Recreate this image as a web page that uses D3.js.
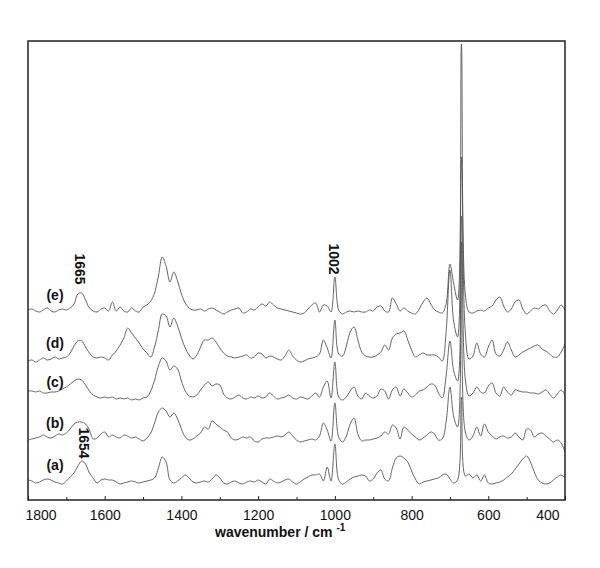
<!DOCTYPE html>
<html><head><meta charset="utf-8">
<script src="https://cdn.jsdelivr.net/npm/d3@7"></script>
<style>body{margin:0;background:#fff}svg{display:block}</style>
</head><body>
<svg id="chart" width="600" height="568"></svg>
<script>
// x grid (cm-1), 1800 -> 400 in steps of 10
const wavenumbers = d3.range(1800, 399, -10);

// Intensities (a.u.) above each trace's own baseline, one value per grid point
const seriesA = [
 4,3,1,2,4,5,4,2,1,0,
 3,7,11,18,23,20,11,6,1,4,
 5,4,4,2,0,1,2,3,2,1,
 2,3,4,6,16,27,22,4,1,3,
 6,9,6,2,1,2,3,2,5,9,
 6,1,0,2,3,1,0,2,3,2,
 4,2,0,5,3,1,2,4,5,2,
 0,2,5,7,9,9,10,3,17,3,
 40,4,0,2,5,7,8,9,8,3,
 5,11,14,5,3,16,26,28,26,22,
 13,5,0,2,3,4,5,6,9,10,
 5,1,4,87,8,10,6,9,3,9,
 1,0,1,2,4,7,10,15,20,25,
 28,22,12,4,1,0,1,4,7,9,
 6];
const seriesB = [
 2,3,4,5,7,5,4,6,8,7,
 9,13,18,20,20,18,12,3,4,8,
 10,5,7,5,4,7,6,4,5,3,
 1,4,9,19,30,34,31,25,29,23,
 13,5,2,3,6,9,15,13,21,18,
 15,12,10,4,2,3,5,4,5,1,
 0,3,4,4,5,6,5,7,10,6,
 2,0,1,2,3,2,6,19,12,1,
 39,5,0,6,18,24,8,1,2,2,
 3,4,6,10,8,17,14,3,15,12,
 8,5,2,4,7,10,8,2,3,20,
 55,25,15,200,10,2,6,15,6,18,
 10,6,3,5,6,4,5,9,5,2,
 13,12,5,8,9,6,3,0,2,-1,
 -10];
const seriesC = [
 10,10,9,10,8,8,9,9,10,12,
 14,17,20,22,21,16,10,6,4,3,
 4,3,4,2,3,2,3,1,2,1,
 3,4,10,21,35,43,40,31,35,32,
 20,10,5,4,6,11,16,19,15,17,
 16,7,3,2,4,6,3,2,4,3,
 5,3,4,8,5,2,3,4,6,3,
 2,4,3,2,5,8,4,14,20,3,
 39,4,1,4,10,14,5,2,8,5,
 3,5,12,10,2,11,14,5,12,8,
 4,6,10,11,14,17,16,8,3,25,
 60,30,20,185,22,5,8,14,9,8,
 15,18,8,5,14,9,6,11,10,9,
 9,8,8,7,9,11,7,3,7,11,
 6];
const seriesD = [
 1,2,0,2,4,2,3,5,3,4,
 5,9,16,21,21,15,9,5,4,5,
 4,2,7,11,17,24,34,29,24,19,
 13,9,5,15,32,48,46,35,44,36,
 24,14,7,3,7,15,22,22,24,20,
 14,9,6,5,4,5,6,7,4,5,
 9,8,4,6,5,3,2,6,12,6,
 2,0,1,3,4,5,8,22,14,4,
 42,8,6,16,30,35,22,10,6,5,
 5,7,10,17,12,24,28,29,31,22,
 12,5,7,9,7,7,7,5,1,30,
 92,40,25,205,30,3,6,19,8,5,
 15,22,8,6,12,20,12,5,7,10,
 12,14,16,17,13,11,8,5,5,10,
 18];
const seriesE = [
 4,5,3,2,4,6,3,2,4,5,
 4,6,10,20,21,14,6,3,2,5,
 6,3,12,3,7,3,2,6,3,2,
 7,9,13,21,38,57,48,32,42,33,
 20,11,6,4,4,5,3,5,6,4,
 2,0,2,4,5,6,1,2,5,4,
 7,10,8,12,9,6,5,4,3,2,
 1,0,1,5,9,11,2,9,8,2,
 37,4,0,2,3,2,3,2,2,4,
 3,7,8,3,2,16,10,3,6,3,
 1,0,5,12,16,10,4,2,1,10,
 50,30,14,270,20,2,1,3,4,3,
 6,8,14,17,8,2,5,12,14,5,
 0,3,6,5,8,9,3,0,4,9,
 4];

const seriesValues = [seriesA, seriesB, seriesC, seriesD, seriesE];
const seriesNames = ["(a)", "(b)", "(c)", "(d)", "(e)"];
const seriesOffsets = [16, 58, 99, 138, 186];

const majorTicks = [1800, 1600, 1400, 1200, 1000, 800, 600, 400];
const minorTicks = [1700, 1500, 1300, 1100, 900, 700, 500];

const peakNames = ["1665", "1654", "1002"];
const peakWavenumbers = [1665, 1654, 1002];

// ---- layout ----
const L = 28, R = 565, T = 41, B = 500;
const x = d3.scaleLinear().domain([1800, 400]).range([L, R]);
const y = d3.scaleLinear().domain([0, 459]).range([B, T]);
const font = "'Liberation Sans', Arial, Helvetica, sans-serif";

const svg = d3.select("#chart");
svg.append("rect").attr("width", 600).attr("height", 568).attr("fill", "#fff");

svg.append("defs").append("clipPath").attr("id", "plotclip")
  .append("rect").attr("x", L).attr("y", T).attr("width", R - L).attr("height", B - T);

const line = d3.line()
  .x((d, i) => x(wavenumbers[i]))
  .y(d => y(d))
  .curve(d3.curveCatmullRom.alpha(0.5));

const g = svg.append("g").attr("clip-path", "url(#plotclip)");
seriesValues.forEach((s, k) => {
  g.append("path")
    .datum(s.map(v => v + seriesOffsets[k]))
    .attr("d", line)
    .attr("fill", "none")
    .attr("stroke", "#555")
    .attr("stroke-width", 0.9)
    .attr("stroke-linejoin", "round");
});

// series labels
seriesNames.forEach((n, k) => {
  svg.append("text")
    .attr("x", 55)
    .attr("y", y(seriesOffsets[k]) - 19)
    .attr("text-anchor", "middle")
    .attr("dominant-baseline", "central")
    .attr("font-family", font).attr("font-weight", "bold").attr("font-size", 14)
    .attr("fill", "#111")
    .text(n);
});

// peak annotations (rotated)
const peakCentersY = [269, 443, 259];
peakNames.forEach((n, k) => {
  const px = x(peakWavenumbers[k]);
  svg.append("text")
    .attr("transform", `translate(${px},${peakCentersY[k]}) rotate(90)`)
    .attr("text-anchor", "middle")
    .attr("dominant-baseline", "central")
    .attr("font-family", font).attr("font-weight", "bold").attr("font-size", 14)
    .attr("fill", "#111")
    .text(n);
});

// bottom axis: major ticks with labels, inward
const axis = d3.axisBottom(x).tickValues(majorTicks).tickSizeInner(-4).tickSizeOuter(0)
  .tickPadding(10).tickFormat(d3.format("d"));
const ag = svg.append("g").attr("transform", `translate(0,${B})`).call(axis);
ag.select(".domain").remove();
ag.selectAll(".tick line").attr("stroke", "#222").attr("stroke-width", 1);
ag.selectAll(".tick text").attr("font-family", font).attr("font-size", 14).attr("fill", "#111");
ag.selectAll(".tick").filter(d => d === 1800).select("text")
  .attr("text-anchor", "start").attr("dx", -3);
ag.selectAll(".tick").filter(d => d === 400).select("text")
  .attr("text-anchor", "end").attr("dx", -6);

const minorAxis = d3.axisBottom(x).tickValues(minorTicks).tickSizeInner(-3).tickSizeOuter(0)
  .tickFormat("");
const mg = svg.append("g").attr("transform", `translate(0,${B})`).call(minorAxis);
mg.select(".domain").remove();
mg.selectAll(".tick line").attr("stroke", "#222").attr("stroke-width", 1);

// frame
svg.append("rect").attr("x", L).attr("y", T).attr("width", R - L).attr("height", B - T)
  .attr("fill", "none").attr("stroke", "#222").attr("stroke-width", 1.5);

// axis title
const title = svg.append("text")
  .attr("x", 215).attr("y", 537)
  .attr("font-family", font).attr("font-weight", "bold").attr("font-size", 14)
  .attr("fill", "#111");
title.append("tspan").text("wavenumber / cm ");
title.append("tspan").attr("font-size", 10).attr("dy", -6).text("-1");
</script>
</body></html>
